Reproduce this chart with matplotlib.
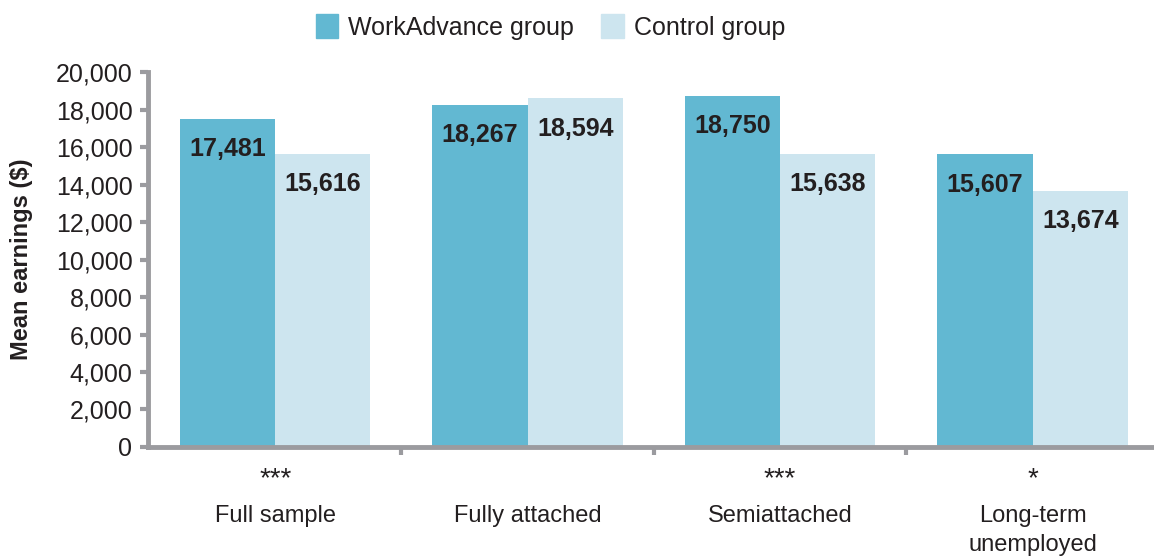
import numpy as np
import matplotlib.pyplot as plt
from matplotlib.patches import Patch

plt.rcParams['font.family'] = ['Liberation Sans', 'DejaVu Sans']

categories = ['Full sample', 'Fully attached', 'Semiattached', 'Long-term\nunemployed']
workadvance = [17481, 18267, 18750, 15607]
control = [15616, 18594, 15638, 13674]
stars = ['***', '', '***', '*']

dark = '#62b8d2'
light = '#cde5ef'
gray = '#9b9b9f'
txt = '#231f20'

fig = plt.figure(figsize=(11.54, 5.59), dpi=100)
ax = fig.add_axes([0.128, 0.2004, 0.874, 0.6706])

x = np.arange(len(categories))
w = 0.377
b1 = ax.bar(x - w/2, workadvance, w, color=dark, label='WorkAdvance group')
b2 = ax.bar(x + w/2, control, w, color=light, label='Control group')

for bars, vals in [(b1, workadvance), (b2, control)]:
    for r, v in zip(bars, vals):
        ax.annotate('{:,}'.format(v), (r.get_x() + r.get_width()/2, v),
                    xytext=(0, -13), textcoords='offset points',
                    ha='center', va='top', fontsize=18, fontweight='bold', color=txt)

ax.set_xlim(-0.505, 3.49)
ax.set_ylim(0, 20000)
ax.set_yticks(np.arange(0, 20001, 2000))
ax.set_yticklabels(['{:,}'.format(v) for v in range(0, 20001, 2000)])

# boundaries as major ticks, category names as minor ticks
ax.set_xticks([0.5, 1.5, 2.5])
ax.set_xticklabels([])
ax.set_xticks(x, minor=True)
ax.set_xticklabels(categories, minor=True, linespacing=1.4)
ax.tick_params(axis='x', which='minor', length=0, pad=42, labelsize=17, labelcolor=txt)
ax.tick_params(axis='x', which='major', length=6, width=3, color=gray)
ax.tick_params(axis='y', length=6, width=3, color=gray, labelsize=18, labelcolor=txt, pad=5)

for i, s in enumerate(stars):
    if s:
        ax.annotate(s, (i, 0), xytext=(0, -14), textcoords='offset points',
                    ha='center', va='top', fontsize=20, color=txt)

for side in ['top', 'right']:
    ax.spines[side].set_visible(False)
for side in ['left', 'bottom']:
    ax.spines[side].set_color(gray)
    ax.spines[side].set_linewidth(3.5)

ax.set_ylabel('Mean earnings ($)', fontsize=17, fontweight='bold', color=txt, labelpad=16)

handles = [Patch(color=dark), Patch(color=light)]
fig.legend(handles, ['WorkAdvance group', 'Control group'], loc='upper center',
           bbox_to_anchor=(0.477, 1.015), ncol=2, frameon=False, fontsize=18,
           handlelength=0.9, handleheight=1.1, handletextpad=0.4, columnspacing=1.1,
           labelcolor=txt)

fig.savefig('out.png', dpi=100)
